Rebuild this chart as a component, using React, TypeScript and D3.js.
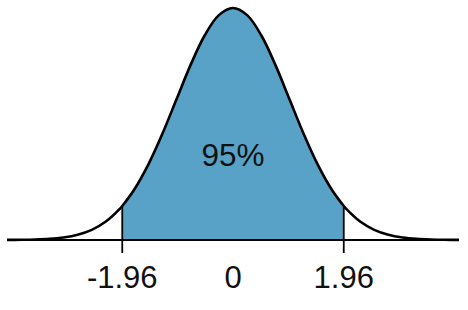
import React from "react";
import * as d3 from "d3";

// Standard normal density, read at fixed z positions
const zValues = [-4, -3.75, -3.5, -3.25, -3, -2.75, -2.5, -2.25, -2, -1.96, -1.75, -1.5, -1.25, -1, -0.75, -0.5, -0.25, 0, 0.25, 0.5, 0.75, 1, 1.25, 1.5, 1.75, 1.96, 2, 2.25, 2.5, 2.75, 3, 3.25, 3.5, 3.75, 4];
const densities = [0.00013, 0.00035, 0.00087, 0.00203, 0.00443, 0.00909, 0.01753, 0.03174, 0.05399, 0.05844, 0.08628, 0.12952, 0.18265, 0.24197, 0.30114, 0.35207, 0.38667, 0.39894, 0.38667, 0.35207, 0.30114, 0.24197, 0.18265, 0.12952, 0.08628, 0.05844, 0.05399, 0.03174, 0.01753, 0.00909, 0.00443, 0.00203, 0.00087, 0.00035, 0.00013];
const criticalValues = [-1.96, 1.96];
const tickValues = [-1.96, 0, 1.96];
const tickLabels = ["-1.96", "0", "1.96"];
const areaLabel = "95%";

export default function App() {
  const W = 468, H = 310;
  const x = d3.scaleLinear().domain([-4, 4]).range([7, 459]);
  const y = d3.scaleLinear().domain([0, 0.39894]).range([240, 8]);
  const pts = zValues.map((z, i) => ({ z, d: densities[i] }));
  const line = d3.line<any>().x(p => x(p.z)).y(p => y(p.d)).curve(d3.curveCatmullRom);
  const inner = pts.filter(p => p.z >= criticalValues[0] - 1e-9 && p.z <= criticalValues[1] + 1e-9);
  const area = d3.area<any>().x(p => x(p.z)).y0(y(0)).y1(p => y(p.d)).curve(d3.curveCatmullRom);
  const font = "'Liberation Sans', Arial, sans-serif";
  return (
    <svg width={W} height={H} style={{ position: "absolute", left: 0, top: 0 }}>
      <rect width={W} height={H} fill="#fff" />
      <path d={area(inner) || ""} fill="#58a2c8" />
      <line x1={x(-4)} x2={x(4)} y1={y(0)} y2={y(0)} stroke="#000" strokeWidth={2} />
      {criticalValues.map((c, i) => {
        const d = densities[zValues.indexOf(c)];
        return <line key={i} x1={x(c)} x2={x(c)} y1={y(d)} y2={253} stroke="#000" strokeWidth={1.8} />;
      })}
      <path d={line(pts) || ""} fill="none" stroke="#000" strokeWidth={2.6} strokeLinejoin="round" />
      {tickValues.map((t, i) => (
        <text key={i} x={x(t)} y={288} textAnchor="middle" fontFamily={font} fontSize={31} fill="#111">{tickLabels[i]}</text>
      ))}
      <text x={x(0)} y={166} textAnchor="middle" fontFamily={font} fontSize={31.5} fill="#111">{areaLabel}</text>
    </svg>
  );
}
